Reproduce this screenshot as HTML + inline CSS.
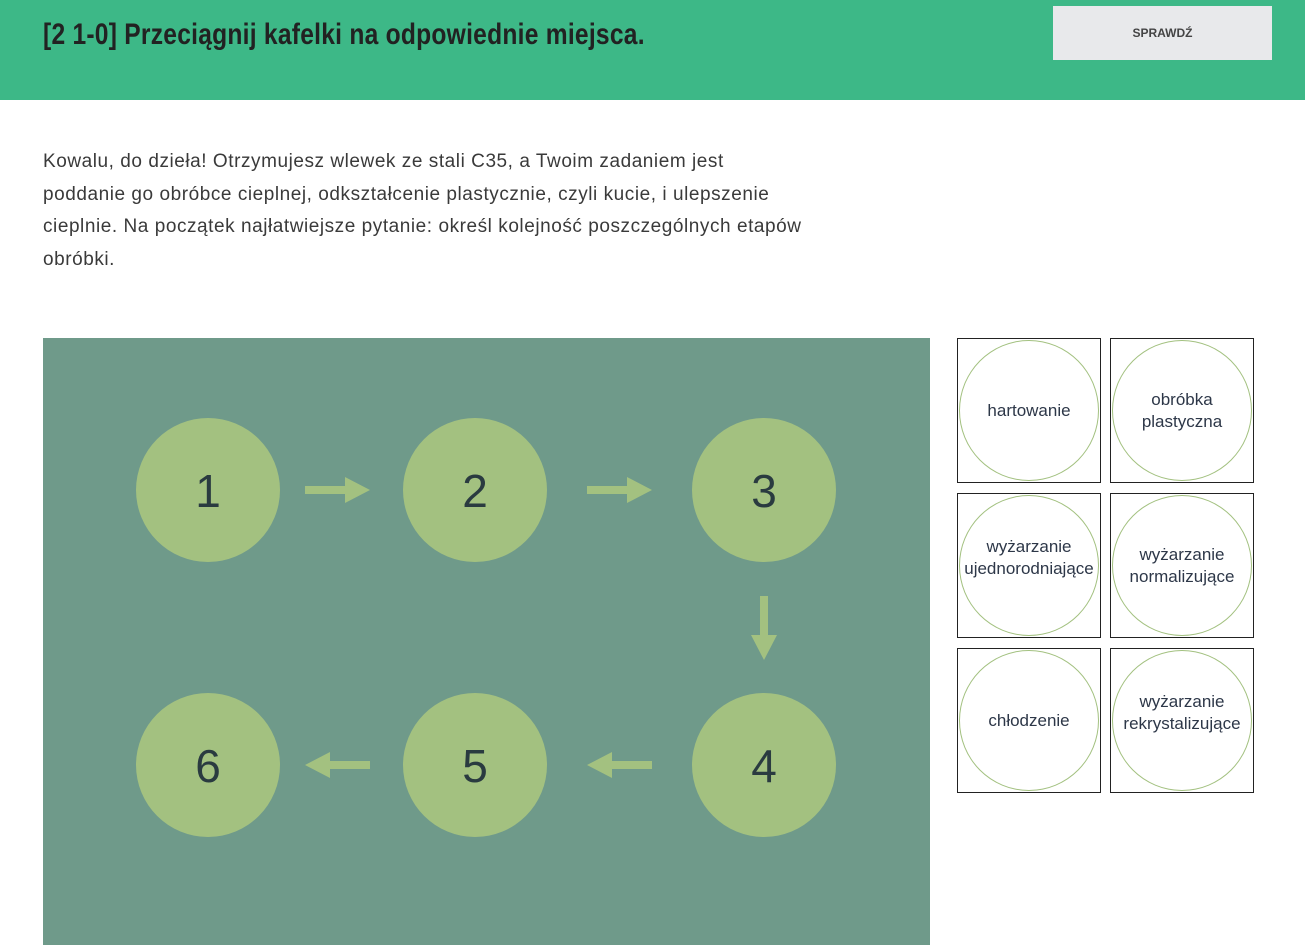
<!DOCTYPE html>
<html><head><meta charset="utf-8"><style>
body{margin:0;width:1305px;height:945px;overflow:hidden;background:#fff;font-family:"Liberation Sans",sans-serif;position:relative}
.hdr{position:absolute;left:0;top:0;width:1305px;height:100px;background:#3db887}
.title{position:absolute;left:43px;top:18px;font-family:"Liberation Sans Narrow","Liberation Sans",sans-serif;font-weight:bold;font-size:30px;color:#222;transform:scaleX(0.82);transform-origin:left;white-space:nowrap;letter-spacing:0.3px}
.btn{position:absolute;left:1053px;top:6px;width:219px;height:54px;background:#e8e9eb;font-size:12px;font-weight:bold;color:#444;text-align:center;line-height:54px}
.txt{position:absolute;left:43px;top:146px;white-space:nowrap;font-size:19px;letter-spacing:0.55px;line-height:32.7px;color:#3a3a3a}
.panel{position:absolute;left:43px;top:338px;width:887px;height:607px;background:#6f9a8a}
.c{position:absolute;width:144px;height:144px;border-radius:50%;background:#a3c180;color:#2a3b40;font-size:46px;text-align:center;line-height:146px}
.t{position:absolute;border:1px solid #222;box-sizing:border-box;width:144px;height:145px}
.t div{position:absolute;left:1px;top:1px;width:140px;height:141px;border:1px solid #a3c180;border-radius:50%;box-sizing:border-box;display:flex;align-items:center;justify-content:center;text-align:center;font-size:17px;color:#2d3748;line-height:22px}
</style></head><body>
<div class="hdr"><div class="title">[2 1-0] Przeciągnij kafelki na odpowiednie miejsca.</div><div class="btn">SPRAWDŹ</div></div>
<div class="txt">Kowalu, do dzieła! Otrzymujesz wlewek ze stali C35, a Twoim zadaniem jest<br>poddanie go obróbce cieplnej, odkształcenie plastycznie, czyli kucie, i ulepszenie<br>cieplnie. Na początek najłatwiejsze pytanie: określ kolejność poszczególnych etapów<br>obróbki.</div>
<div class="panel"></div>
<div class="c" style="left:136px;top:418px">1</div>
<div class="c" style="left:403px;top:418px">2</div>
<div class="c" style="left:692px;top:418px">3</div>
<div class="c" style="left:136px;top:693px">6</div>
<div class="c" style="left:403px;top:693px">5</div>
<div class="c" style="left:692px;top:693px">4</div>
<svg style="position:absolute;left:0;top:0" width="1305" height="945">
<g fill="#a3c180">
<polygon points="305,486 345,486 345,477 370,490 345,503 345,494 305,494"/>
<polygon points="587,486 627,486 627,477 652,490 627,503 627,494 587,494"/>
<polygon points="760,596 768,596 768,635 777,635 764,660 751,635 760,635"/>
<polygon points="370,761 330,761 330,752 305,765 330,778 330,769 370,769"/>
<polygon points="652,761 612,761 612,752 587,765 612,778 612,769 652,769"/>
</g></svg>
<div class="t" style="left:957px;top:338px"><div>hartowanie</div></div>
<div class="t" style="left:1110px;top:338px"><div>obróbka<br>plastyczna</div></div>
<div class="t" style="left:957px;top:493px"><div style="padding-bottom:16px">wyżarzanie<br>ujednorodniające</div></div>
<div class="t" style="left:1110px;top:493px"><div>wyżarzanie<br>normalizujące</div></div>
<div class="t" style="left:957px;top:648px"><div>chłodzenie</div></div>
<div class="t" style="left:1110px;top:648px"><div style="padding-bottom:16px">wyżarzanie<br>rekrystalizujące</div></div>
</body></html>
